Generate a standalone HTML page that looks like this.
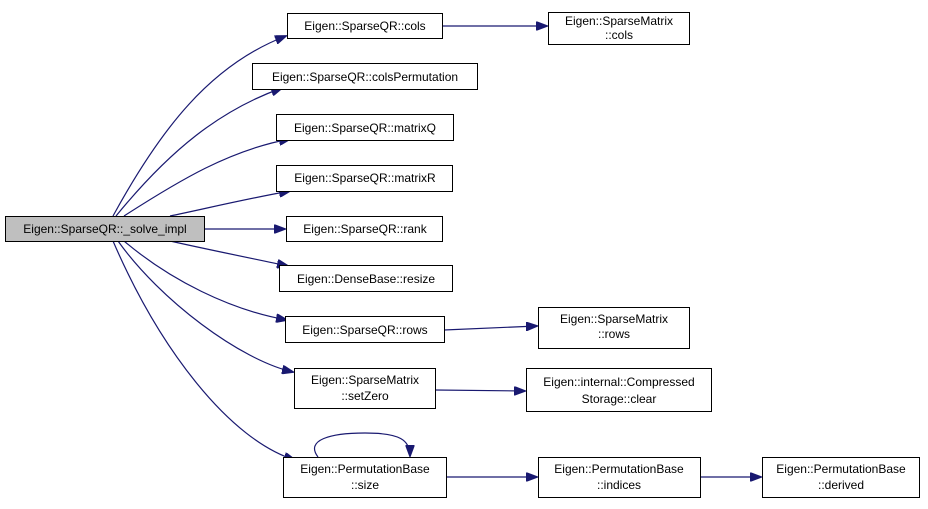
<!DOCTYPE html>
<html><head><style>
body{margin:0;background:#fff;}
svg text{font-family:"Liberation Sans",Arial,sans-serif;font-size:12px;fill:#000;}
</style></head><body>
<svg width="928" height="504" xmlns="http://www.w3.org/2000/svg">
<defs><marker id="a" markerWidth="12" markerHeight="9" refX="11" refY="4.5" orient="auto" markerUnits="userSpaceOnUse"><path d="M0,0 L12,4.5 L0,9z" fill="#191970" stroke="#191970"/></marker></defs>
<g fill="none" stroke="#191970" stroke-width="1.2" marker-end="url(#a)">
<path d="M113,216 C160,130 210,65 286,36"/>
<path d="M116,216 C170,150 220,110 282,88"/>
<path d="M124,216 C180,180 230,150 290,139"/>
<path d="M170,216 C200,210 240,200 290,191"/>
<path d="M204,229 L285,229"/>
<path d="M170,241 C210,250 250,258 288,266"/>
<path d="M124,241 C170,280 230,310 287,320"/>
<path d="M118,241 C160,300 240,360 293,372"/>
<path d="M113,241 C160,350 230,440 295,460"/>
<path d="M442,26 L547,26"/>
<path d="M444,330 L537,326"/>
<path d="M435,390 L525,391"/>
<path d="M446,477 L537,477"/>
<path d="M700,477 L761,477"/>
<path d="M318,457 C305,440 330,433 365,433 C400,433 410,440 410,456"/>
</g>
<g stroke="#000" stroke-width="1" fill="#fff">
<rect x="5.5" y="216.5" width="199" height="25" fill="#bfbfbf"/>
<rect x="287.5" y="13.5" width="155" height="25"/>
<rect x="252.5" y="63.5" width="225" height="26"/>
<rect x="276.5" y="114.5" width="177" height="26"/>
<rect x="276.5" y="165.5" width="176" height="26"/>
<rect x="286.5" y="216.5" width="156" height="25"/>
<rect x="279.5" y="265.5" width="173" height="26"/>
<rect x="285.5" y="316.5" width="159" height="26"/>
<rect x="294.5" y="368.5" width="141" height="40"/>
<rect x="283.5" y="457.5" width="163" height="40"/>
<rect x="548.5" y="12.5" width="141" height="32"/>
<rect x="538.5" y="307.5" width="151" height="41"/>
<rect x="526.5" y="368.5" width="185" height="43"/>
<rect x="538.5" y="457.5" width="162" height="40"/>
<rect x="762.5" y="457.5" width="157" height="40"/>
</g>
<g text-anchor="middle">
<text x="105" y="233">Eigen::SparseQR::_solve_impl</text>
<text x="365" y="30">Eigen::SparseQR::cols</text>
<text x="365" y="81">Eigen::SparseQR::colsPermutation</text>
<text x="365" y="132">Eigen::SparseQR::matrixQ</text>
<text x="365" y="182">Eigen::SparseQR::matrixR</text>
<text x="365" y="233">Eigen::SparseQR::rank</text>
<text x="366" y="283">Eigen::DenseBase::resize</text>
<text x="365" y="334">Eigen::SparseQR::rows</text>
<text x="365" y="384">Eigen::SparseMatrix</text>
<text x="365" y="400">::setZero</text>
<text x="365" y="473">Eigen::PermutationBase</text>
<text x="365" y="489">::size</text>
<text x="619" y="25">Eigen::SparseMatrix</text>
<text x="619" y="39">::cols</text>
<text x="614" y="323">Eigen::SparseMatrix</text>
<text x="614" y="338">::rows</text>
<text x="619" y="386">Eigen::internal::Compressed</text>
<text x="619" y="403">Storage::clear</text>
<text x="619" y="473">Eigen::PermutationBase</text>
<text x="619" y="489">::indices</text>
<text x="841" y="473">Eigen::PermutationBase</text>
<text x="841" y="489">::derived</text>
</g>
</svg>
</body></html>
